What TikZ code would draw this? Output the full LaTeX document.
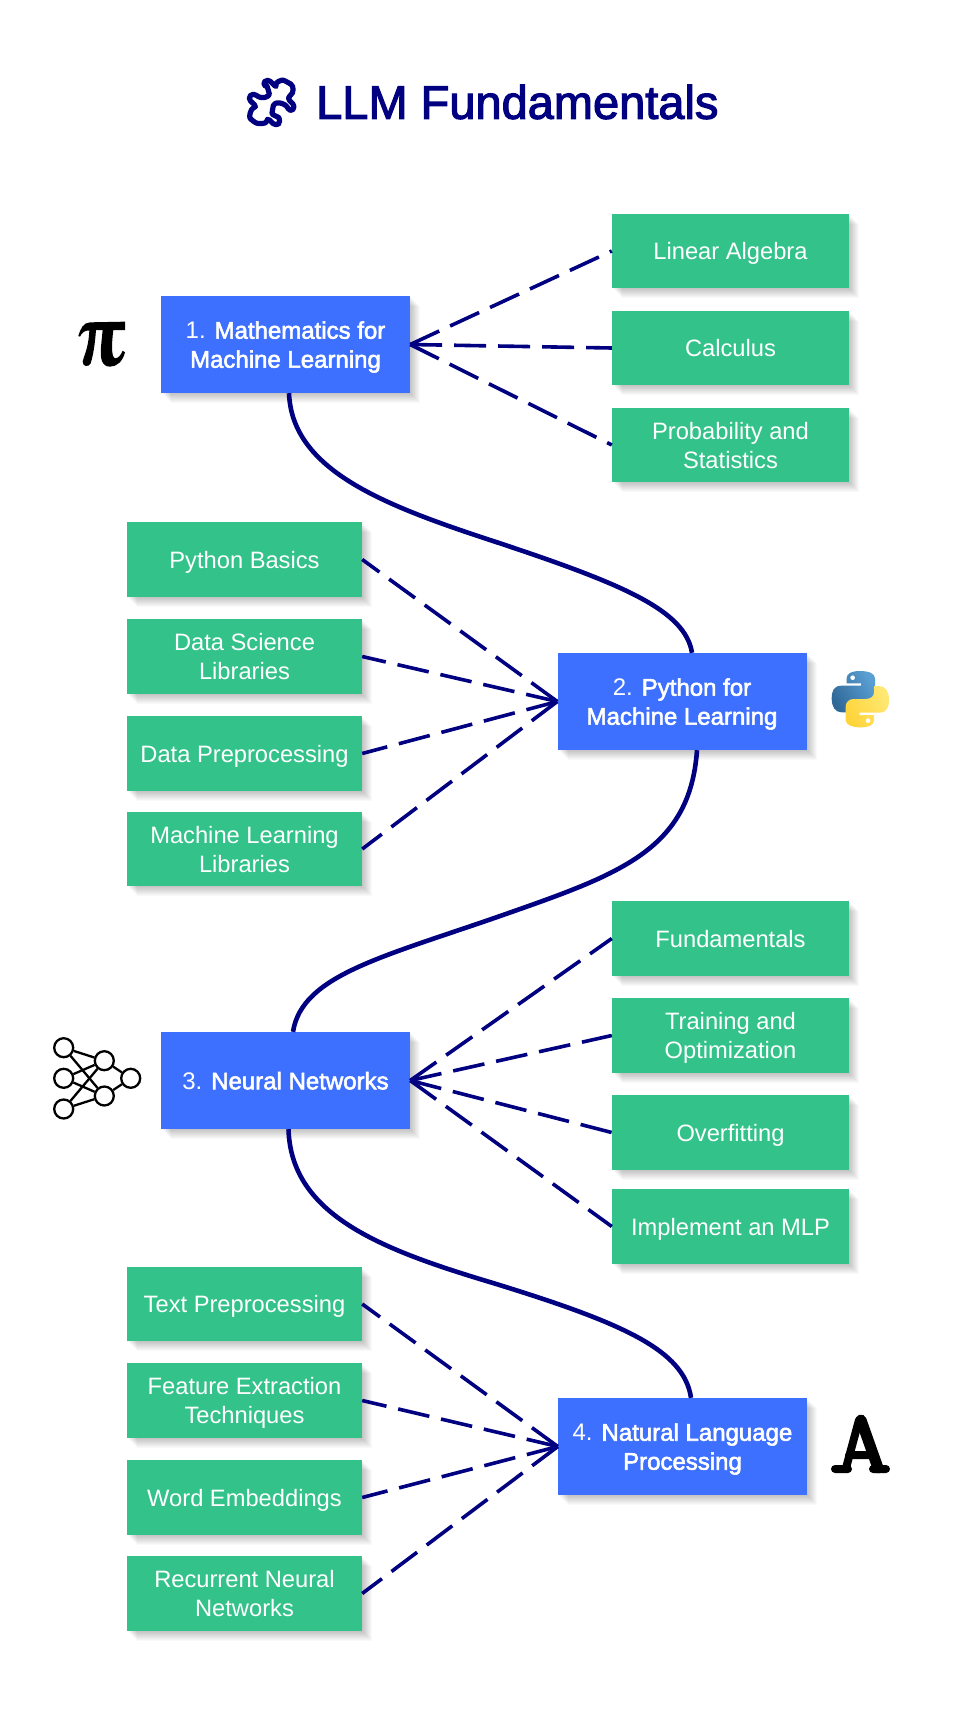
\documentclass[tikz,border=0pt]{standalone}
\usepackage{fontspec}
\setmainfont{Liberation Sans}
\newfontfamily\medfont[FakeBold=2.4]{Liberation Sans}
\newcommand{\twolines}[2]{\rule{0pt}{23.4pt}#1\\#2\rule[-6pt]{0pt}{6pt}}
\usetikzlibrary{calc}
\definecolor{navyline}{HTML}{000080}
\definecolor{topicblue}{HTML}{3D70FF}
\definecolor{leafgreen}{HTML}{33C38A}
\tikzset{
  shadowlayer/.style={fill=black,draw=none,opacity=.023,transform canvas={shift={(#1,-#1)}}},
  softshadow/.style={
    preaction={shadowlayer=1pt},preaction={shadowlayer=2pt},preaction={shadowlayer=3pt},
    preaction={shadowlayer=4pt},preaction={shadowlayer=5pt},preaction={shadowlayer=6pt},
    preaction={shadowlayer=7pt},preaction={shadowlayer=8pt},preaction={shadowlayer=9pt},
    preaction={shadowlayer=10pt}},
  centredtext/.style={execute at begin node={\rule{0pt}{22pt}},execute at end node={\rule[-4.4pt]{0pt}{4.4pt}}},
  plaintext/.style={execute at begin node={},execute at end node={}},
  topicbox/.style={rectangle,softshadow,fill=topicblue,text=white,minimum width=249pt,minimum height=97pt,inner sep=0pt,align=center,font=\fontsize{24}{29}\selectfont,centredtext},
  leafr/.style={rectangle,softshadow,fill=leafgreen,text=white,minimum width=237pt,minimum height=74.5pt,inner sep=0pt,align=center,font=\fontsize{23.7}{29}\selectfont,centredtext},
  leafl/.style={leafr,minimum width=235pt},
  dashlink/.style={draw=navyline,line width=3.6pt,dash pattern=on 32pt off 12pt},
  flowlink/.style={draw=navyline,line width=4.6pt},
  neuron/.style={circle,draw=black,fill=white,line width=2.3pt,minimum size=19pt,inner sep=0pt},
  synapse/.style={draw=black,line width=2.3pt},
}
\begin{document}
\begin{tikzpicture}[x=1pt,y=-1pt]
\useasboundingbox (0,0) rectangle (960,1728);
\fill[white] (0,0) rectangle (960,1728);

% title
\node[anchor=west,inner sep=0pt,text=navyline,font=\fontsize{47}{56}\selectfont\medfont] (title) at (316,102) {LLM Fundamentals};
\begin{scope}[shift={(200,60)},scale=1/3]
\draw[navyline,line width=5.2pt,line join=round,rounded corners=4pt]
  (203,56) -- (232,85) .. controls (225,68) and (245,58) .. (262,66) .. controls (282,78) and (282,100) .. (260,113)
  -- (287,140) -- (270,157) .. controls (255,125) and (222,125) .. (218,148) .. controls (215,165) and (235,170) .. (243,184)
  -- (228,199) -- (200,172) .. controls (200,192) and (175,192) .. (158,184) .. controls (146,170) and (153,145) .. (172,142)
  -- (143,115) -- (160,98) .. controls (185,120) and (210,110) .. (205,90) .. controls (200,75) and (190,75) .. (186,73) -- cycle;
\end{scope}

% main topics
\node[topicbox,plaintext] (m1) at (285.5,344.5) {\twolines{1. {\medfont Mathematics for}}{{\medfont Machine Learning}}};
\node[topicbox,plaintext] (m2) at (682,701.5) {\twolines{2. {\medfont Python for}}{{\medfont Machine Learning}}};
\node[topicbox] (m3) at (285.5,1080.5) {3. {\medfont Neural Networks}};
\node[topicbox,plaintext] (m4) at (682.5,1446.5) {\twolines{4. {\medfont Natural Language}}{{\medfont Processing}}};

% leaves
\node[leafr] (a1) at (730.5,251) {Linear Algebra};
\node[leafr] (a2) at (730.5,348) {Calculus};
\node[leafr,plaintext] (a3) at (730.5,445) {\twolines{Probability and}{Statistics}};
\node[leafl] (b1) at (244.5,559.5) {Python Basics};
\node[leafl,plaintext] (b2) at (244.5,656.5) {\twolines{Data Science}{Libraries}};
\node[leafl] (b3) at (244.5,753.5) {Data Preprocessing};
\node[leafl,plaintext] (b4) at (244.5,849) {\twolines{Machine Learning}{Libraries}};
\node[leafr] (c1) at (730.5,938.5) {Fundamentals};
\node[leafr,plaintext] (c2) at (730.5,1035.5) {\twolines{Training and}{Optimization}};
\node[leafr] (c3) at (730.5,1132.5) {Overfitting};
\node[leafr] (c4) at (730.5,1226.5) {Implement an MLP};
\node[leafl] (d1) at (244.5,1304) {Text Preprocessing};
\node[leafl,plaintext] (d2) at (244.5,1400.5) {\twolines{Feature Extraction}{Techniques}};
\node[leafl] (d3) at (244.5,1497.5) {Word Embeddings};
\node[leafl,plaintext] (d4) at (244.5,1593.5) {\twolines{Recurrent Neural}{Networks}};

% dashed links
\foreach \leaf in {a1,a2,a3} \draw[dashlink] (m1.east) -- (\leaf.west);
\foreach \leaf in {b1,b2,b3,b4} \draw[dashlink] (m2.west) -- (\leaf.east);
\foreach \leaf in {c1,c2,c3,c4} \draw[dashlink] (m3.east) -- (\leaf.west);
\foreach \leaf in {d1,d2,d3,d4} \draw[dashlink] (m4.west) -- (\leaf.east);

% curved flow
\draw[flowlink] ([xshift=3.5pt]m1.south) .. controls (292,470) and (383,505) .. (493,541)
  .. controls (623,584) and (685,610) .. ([xshift=10pt]m2.north);
\draw[flowlink] ([xshift=15pt]m2.south) .. controls (690,850) and (620,874) .. (503,915)
  .. controls (383,957) and (302,975) .. ([xshift=7.5pt]m3.north);
\draw[flowlink] ([xshift=3pt]m3.south) .. controls (291,1216) and (383,1250) .. (493,1283)
  .. controls (623,1323) and (684,1350) .. ([xshift=8.5pt]m4.north);

% pi icon
\begin{scope}[shift={(60,300)},scale=1/3]
\fill[black] (55,108) .. controls (62,85) and (70,68) .. (90,67) -- (195,65) -- (195,90) -- (160,90)
  .. controls (155,130) and (153,170) .. (165,175) .. controls (175,175) and (183,165) .. (188,152)
  -- (195,157) .. controls (188,185) and (170,200) .. (150,200) .. controls (125,200) and (120,175) .. (123,140)
  -- (128,90) -- (108,90) .. controls (105,130) and (100,165) .. (92,190)
  .. controls (85,203) and (68,200) .. (68,185) .. controls (70,170) and (85,150) .. (88,92)
  .. controls (75,90) and (65,98) .. (60,110) -- cycle;
\end{scope}

% python icon
\begin{scope}[shift={(780,640)},scale=1/3]
\path[shade,shading=axis,left color={rgb,255:red,90;green,159;blue,212},right color={rgb,255:red,48;green,105;blue,152},shading angle=300]
  (200,130) -- (243,130) -- (243,137) -- (185,137) .. controls (160,137) and (155,155) .. (155,175)
  .. controls (155,200) and (165,217) .. (185,217) -- (200,217) -- (200,197) .. controls (200,185) and (212,178) .. (225,178)
  -- (262,178) .. controls (275,178) and (285,168) .. (285,155) -- (285,115)
  .. controls (285,100) and (265,93) .. (240,93) .. controls (215,93) and (200,100) .. (200,115) -- cycle;
\fill[white] (218,113) circle (7);
\begin{scope}[rotate around={180:(241,177.5)}]
\path[shade,shading=axis,left color={rgb,255:red,255;green,212;blue,59},right color={rgb,255:red,255;green,232;blue,115},shading angle=120]
  (200,130) -- (243,130) -- (243,137) -- (185,137) .. controls (160,137) and (155,155) .. (155,175)
  .. controls (155,200) and (165,217) .. (185,217) -- (200,217) -- (200,197) .. controls (200,185) and (212,178) .. (225,178)
  -- (262,178) .. controls (275,178) and (285,168) .. (285,155) -- (285,115)
  .. controls (285,100) and (265,93) .. (240,93) .. controls (215,93) and (200,100) .. (200,115) -- cycle;
\fill[white] (218,113) circle (7);
\end{scope}
\end{scope}

% neural network icon
\node[neuron] (n1) at (63.7,1047.7) {};
\node[neuron] (n2) at (63.7,1078.3) {};
\node[neuron] (n3) at (63.7,1109) {};
\node[neuron] (h1) at (104.3,1060.7) {};
\node[neuron] (h2) at (104.3,1096) {};
\node[neuron] (o1) at (130.7,1078.3) {};
\foreach \i in {n1,n2,n3} \foreach \j in {h1,h2} \draw[synapse] (\i) -- (\j);
\foreach \j in {h1,h2} \draw[synapse] (\j) -- (o1);

% letter A icon
\draw[black,line width=8pt,line cap=round,line join=round]
  (859,1420) -- (846,1468) (835,1469) -- (848,1469) (873,1469) -- (886,1469) (849,1455) -- (873,1455);
\draw[black,line width=11pt,line cap=round] (861,1420) -- (878,1468);
\end{tikzpicture}
\end{document}
